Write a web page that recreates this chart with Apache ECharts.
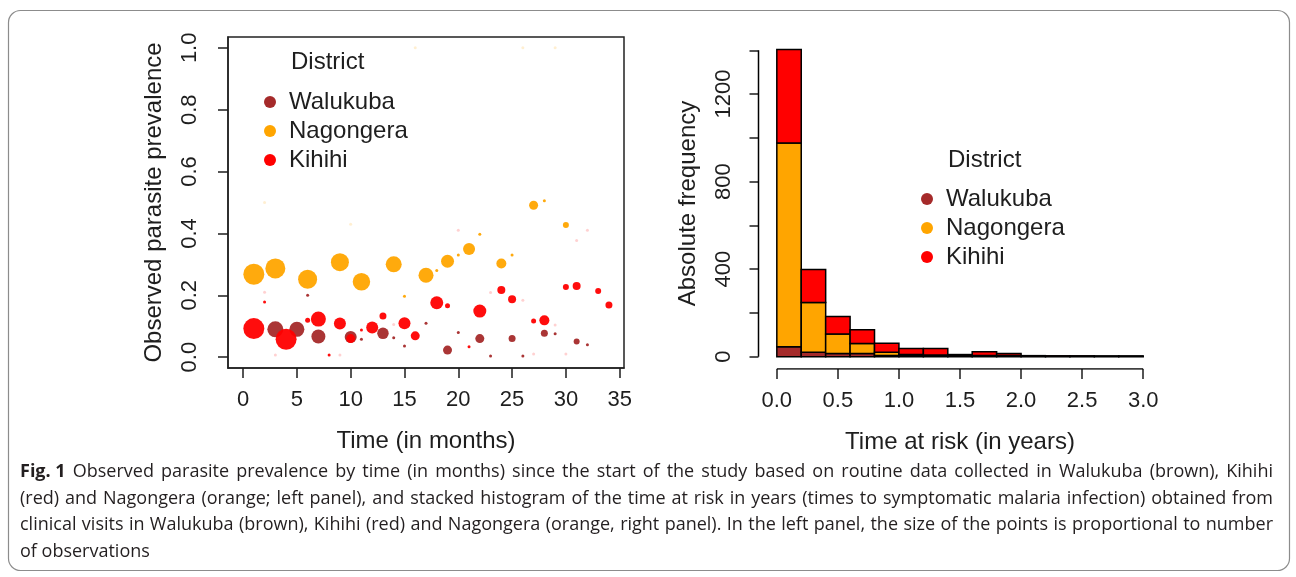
<!DOCTYPE html>
<html>
<head>
<meta charset="utf-8">
<script src="https://cdn.jsdelivr.net/npm/echarts@6/dist/echarts.min.js"></script>
<style>
  html, body { margin: 0; padding: 0; background: #fff; }
  #chart { width: 1296px; height: 577px; }
</style>
</head>
<body>
<div id="chart"></div>
<script>
var myChart = echarts.init(document.getElementById("chart"));

const districts = ["Walukuba", "Nagongera", "Kihihi"];
const districtColors = ["#A52A2A", "#FFA500", "#FF0000"];

// left panel: month, observed prevalence, number of observations (point size)
const walukubaMonth = [3, 5, 7, 10, 13, 6, 11, 14, 15, 17, 19, 20, 22, 23, 25, 26, 28, 29, 31, 32];
const walukubaPrev = [0.09, 0.09, 0.067, 0.065, 0.077, 0.2, 0.058, 0.063, 0.036, 0.11, 0.023, 0.08, 0.06, 0.004, 0.06, 0.004, 0.077, 0.076, 0.051, 0.04];
const walukubaObs = [160, 150, 140, 120, 115, 30, 30, 30, 30, 30, 90, 30, 90, 30, 70, 30, 70, 30, 60, 30];

const nagongeraMonth = [1, 3, 6, 9, 11, 14, 15, 17, 18, 19, 20, 21, 22, 24, 25, 27, 28, 30, 2, 10, 16, 26, 29];
const nagongeraPrev = [0.268, 0.287, 0.252, 0.307, 0.244, 0.3, 0.197, 0.265, 0.28, 0.31, 0.33, 0.35, 0.397, 0.303, 0.33, 0.491, 0.506, 0.427, 0.5, 0.43, 1.0, 1.0, 1.0];
const nagongeraObs = [210, 200, 190, 180, 175, 160, 30, 150, 30, 130, 30, 120, 30, 100, 30, 90, 30, 60, 2, 2, 2, 2, 2];

const kihihiMonth = [1, 2, 4, 6, 7, 8, 9, 10, 11, 12, 13, 15, 16, 18, 19, 21, 22, 24, 25, 27, 28, 30, 31, 33, 34, 20, 31, 32, 2, 14, 23, 26, 29, 3, 9, 27, 30];
const kihihiPrev = [0.0925, 0.178, 0.058, 0.119, 0.123, 0.007, 0.109, 0.06, 0.088, 0.096, 0.133, 0.11, 0.069, 0.176, 0.166, 0.034, 0.149, 0.217, 0.187, 0.117, 0.119, 0.227, 0.23, 0.214, 0.169, 0.41, 0.377, 0.41, 0.21, 0.106, 0.209, 0.184, 0.104, 0.007, 0.007, 0.01, 0.01];
const kihihiObs = [210, 30, 210, 50, 150, 25, 120, 90, 30, 120, 70, 120, 90, 130, 50, 30, 130, 80, 80, 50, 100, 60, 80, 60, 70, 2, 2, 2, 2, 2, 2, 2, 2, 2, 2, 2, 2];

const monthTicks = [0, 5, 10, 15, 20, 25, 30, 35];
const prevTicks = [0, 0.2, 0.4, 0.6, 0.8, 1.0];

// right panel: histogram of time at risk (years), 0.2-year bins
const binEdges = [0, 0.2, 0.4, 0.6, 0.8, 1.0, 1.2, 1.4, 1.6, 1.8, 2.0, 2.2, 2.4, 2.6, 2.8, 3.0];
const walukubaFreq = [46, 20, 15, 15, 6, 7, 6, 5, 5, 5, 2, 2, 2, 2, 2];
const nagongeraFreq = [930, 228, 89, 46, 14, 3, 2, 2, 1, 1, 1, 1, 0, 0, 0];
const kihihiFreq = [428, 150, 80, 62, 42, 28, 30, 3, 17, 9, 2, 1, 2, 1, 1];

const yearTicks = [0, 0.5, 1.0, 1.5, 2.0, 2.5, 3.0];
const freqTicks = [0, 200, 400, 600, 800, 1000, 1200, 1400];
const freqLabels = [0, 400, 800, 1200];

const captionLabel = "Fig. 1";
const captionLines = [
  "Observed parasite prevalence by time (in months) since the start of the study based on routine data collected in Walukuba (brown), Kihihi",
  "(red) and Nagongera (orange; left panel), and stacked histogram of the time at risk in years (times to symptomatic malaria infection) obtained from",
  "clinical visits in Walukuba (brown), Kihihi (red) and Nagongera (orange, right panel). In the left panel, the size of the points is proportional to number",
  "of observations"
];

const font = "Liberation Sans";
const ink = "#1e1e1e";
const capFont = "Open Sans", capSize = 18, capInk = "#231f20";
const capLeft = 20, capRight = 1273, capTop = 472, capStep = 26.5;

function scatterData(months, prev, obs) {
  return months.map(function (m, i) {
    return {
      value: [m, prev[i], obs[i]],
      itemStyle: { opacity: obs[i] < 10 ? 0.18 : 0.95 }
    };
  });
}

const scatterSets = [
  scatterData(walukubaMonth, walukubaPrev, walukubaObs),
  scatterData(nagongeraMonth, nagongeraPrev, nagongeraObs),
  scatterData(kihihiMonth, kihihiPrev, kihihiObs)
];

// stacked bins: brown bottom, orange middle, red top
const freqSets = [walukubaFreq, nagongeraFreq, kihihiFreq];
const histSets = [[], [], []];
for (let b = 0; b < binEdges.length - 1; b++) {
  let base = 0;
  for (let s = 0; s < 3; s++) {
    histSets[s].push([binEdges[b], binEdges[b + 1], base, base + freqSets[s][b]]);
    base += freqSets[s][b];
  }
}

function renderBin(params, api) {
  const p0 = api.coord([api.value(0), api.value(3)]);
  const p1 = api.coord([api.value(1), api.value(2)]);
  return {
    type: "rect",
    shape: { x: p0[0], y: p0[1], width: p1[0] - p0[0], height: p1[1] - p0[1] },
    style: { fill: api.visual("color"), stroke: "#000", lineWidth: 1.5 }
  };
}

// justified caption, word by word (last line left aligned)
const measureCtx = document.createElement("canvas").getContext("2d");
function textWidth(t, bold) {
  measureCtx.font = (bold ? "bold " : "") + capSize + "px '" + capFont + "'";
  return measureCtx.measureText(t).width;
}
const captionGraphics = [];
captionLines.forEach(function (line, i) {
  const words = line.split(" ").map(function (w) { return { text: w, bold: false }; });
  if (i === 0) words.unshift({ text: captionLabel, bold: true });
  const widths = words.map(function (w) { return textWidth(w.text, w.bold); });
  const total = widths.reduce(function (a, b) { return a + b; }, 0);
  const gap = i < captionLines.length - 1
    ? (capRight - capLeft - total) / (words.length - 1)
    : textWidth(" ", false);
  let x = capLeft;
  words.forEach(function (w, k) {
    captionGraphics.push({
      type: "text", silent: true, x: x, y: capTop + i * capStep,
      style: {
        text: w.text, fontSize: capSize, fontFamily: capFont,
        fontWeight: w.bold ? "bold" : "normal", fill: capInk, verticalAlign: "middle"
      }
    });
    x += widths[k] + gap;
  });
});

const xMin2 = -0.15, xMax2 = 3.15, yMin2 = -56, yMax2 = 1456;

const series = [];
districts.forEach(function (name, i) {
  series.push({
    name: name,
    type: "scatter",
    xAxisIndex: 0,
    yAxisIndex: 0,
    data: scatterSets[i],
    symbolSize: function (v) { return Math.max(3, v[2] * 0.1); },
    itemStyle: { color: districtColors[i], opacity: 1 },
    z: 2 + i
  });
});
districts.forEach(function (name, i) {
  series.push({
    name: name,
    type: "custom",
    xAxisIndex: 1,
    yAxisIndex: 1,
    renderItem: renderBin,
    encode: { x: [0, 1], y: [2, 3] },
    itemStyle: { color: districtColors[i] },
    data: histSets[i]
  });
});
// R-style axis lines spanning only the tick range on the right panel
series.push({
  type: "line", xAxisIndex: 1, yAxisIndex: 1, silent: true, symbol: "none",
  lineStyle: { color: "#000", width: 1.5 },
  data: [[xMin2, freqTicks[0]], [xMin2, freqTicks[freqTicks.length - 1]]]
});
series.push({
  type: "line", xAxisIndex: 1, yAxisIndex: 1, silent: true, symbol: "none",
  lineStyle: { color: "#000", width: 1.5 },
  data: [[yearTicks[0], yMin2], [yearTicks[yearTicks.length - 1], yMin2]]
});

const legendBase = {
  orient: "vertical",
  data: districts.map(function (n) { return { name: n, icon: "circle" }; }),
  itemWidth: 12,
  itemHeight: 12,
  itemGap: 5,
  selectedMode: false,
  textStyle: { fontSize: 24, fontFamily: font, color: ink, padding: [0, 0, 0, 8] }
};

const leftAxisLine = { show: true, onZero: false, lineStyle: { color: "#222", width: 1.5 } };
const rightAxisLine = { show: true, onZero: false, lineStyle: { color: "#000", width: 1, opacity: 0 } };

function tickStyle(values, len) {
  return { show: true, customValues: values, length: len, lineStyle: { color: ink, width: 1.5 } };
}

const option = {
  backgroundColor: "#fff",
  animation: false,
  title: [
    { text: "District", left: 291, top: 50, padding: 0,
      textStyle: { fontSize: 24, fontWeight: "normal", fontFamily: font, color: ink } },
    { text: "District", left: 948, top: 148, padding: 0,
      textStyle: { fontSize: 24, fontWeight: "normal", fontFamily: font, color: ink } }
  ],
  legend: [
    Object.assign({}, legendBase, { left: 259, top: 85 }),
    Object.assign({}, legendBase, { left: 916, top: 182 })
  ],
  grid: [
    { left: 228, top: 37, width: 396, height: 331, show: true, borderColor: "#222", borderWidth: 1.5, backgroundColor: "transparent" },
    { left: 758.5, top: 38, width: 403, height: 331, show: false }
  ],
  xAxis: [
    {
      gridIndex: 0, type: "value", min: -1.4, max: 35.4,
      axisLine: leftAxisLine, splitLine: { show: false },
      axisTick: tickStyle(monthTicks, 10),
      axisLabel: { customValues: monthTicks, fontSize: 22, margin: 21, color: ink, fontFamily: font },
      name: "Time (in months)", nameLocation: "middle", nameGap: 61,
      nameTextStyle: { fontSize: 24, color: ink, fontFamily: font }
    },
    {
      gridIndex: 1, type: "value", min: xMin2, max: xMax2,
      axisLine: rightAxisLine, splitLine: { show: false },
      axisTick: tickStyle(yearTicks, 10),
      axisLabel: { customValues: yearTicks, fontSize: 22, margin: 21, color: ink, fontFamily: font,
        formatter: function (v) { return v.toFixed(1); } },
      name: "Time at risk (in years)", nameLocation: "middle", nameGap: 61,
      nameTextStyle: { fontSize: 24, color: ink, fontFamily: font }
    }
  ],
  yAxis: [
    {
      gridIndex: 0, type: "value", min: -0.035, max: 1.035,
      axisLine: leftAxisLine, splitLine: { show: false },
      axisTick: tickStyle(prevTicks, 10),
      axisLabel: { customValues: prevTicks, fontSize: 22, margin: 27, rotate: 90, color: ink, fontFamily: font,
        formatter: function (v) { return v.toFixed(1); } },
      name: "Observed parasite prevalence", nameLocation: "middle", nameGap: 62, nameRotate: 90,
      nameTextStyle: { fontSize: 24, color: ink, fontFamily: font }
    },
    {
      gridIndex: 1, type: "value", min: yMin2, max: yMax2,
      axisLine: rightAxisLine, splitLine: { show: false },
      axisTick: tickStyle(freqTicks, 9),
      axisLabel: { customValues: freqLabels, fontSize: 22, margin: 24, rotate: 90, color: ink, fontFamily: font,
        formatter: function (v) { return String(v); } },
      name: "Absolute frequency", nameLocation: "middle", nameGap: 58, nameRotate: 90,
      nameTextStyle: { fontSize: 24, color: ink, fontFamily: font }
    }
  ],
  graphic: [
    { type: "rect", silent: true, shape: { x: 8.5, y: 10.5, width: 1281, height: 560, r: 12 },
      style: { fill: "none", stroke: "#8c8c8c", lineWidth: 1.2 } }
  ].concat(captionGraphics),
  series: series
};

myChart.setOption(option);
</script>
</body>
</html>
